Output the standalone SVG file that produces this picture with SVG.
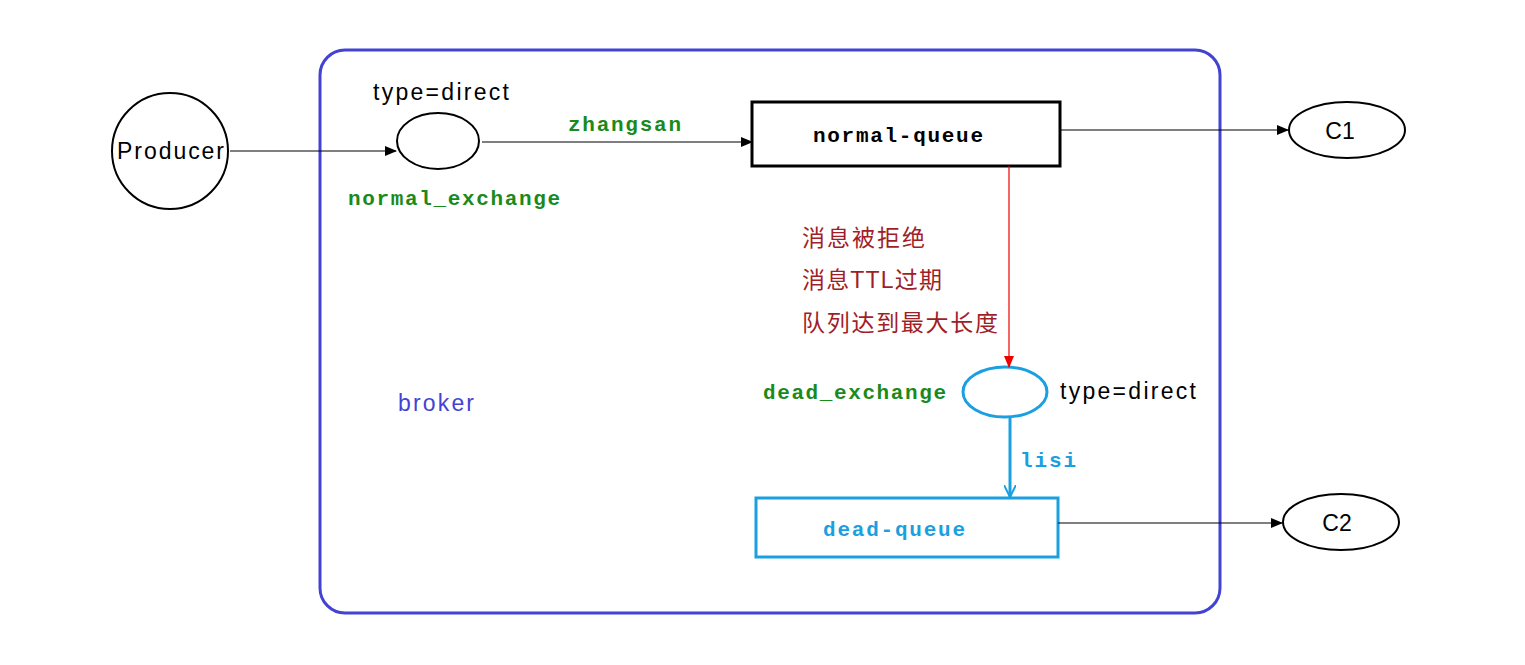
<svg xmlns="http://www.w3.org/2000/svg" width="1525" height="665" viewBox="0 0 1525 665">
<style>
.s{font-family:"Liberation Sans","Noto Sans CJK SC",sans-serif;font-size:23px}
.m{font-family:"Liberation Mono",monospace;font-size:21px;font-weight:bold}
.g{fill:#1a8a1a}
.r{fill:#a01e28}
</style>
<defs>
<marker id="ak" markerWidth="12" markerHeight="10" refX="11" refY="5" orient="auto" markerUnits="userSpaceOnUse"><path d="M0,0L12,5L0,10z" fill="#000"/></marker>
<marker id="ar" markerWidth="12" markerHeight="10" refX="11" refY="5" orient="auto" markerUnits="userSpaceOnUse"><path d="M0,0L12,5L0,10z" fill="#e00"/></marker>
<marker id="ab" markerWidth="14" markerHeight="12" refX="12" refY="6" orient="auto" markerUnits="userSpaceOnUse"><path d="M0,0L12,6L0,12" fill="none" stroke="#1aa0e0" stroke-width="2"/></marker>
</defs>
<rect width="1525" height="665" fill="#fff"/>
<g id="broker"><rect x="320" y="50" width="900" height="563" rx="25" fill="none" stroke="#4343d3" stroke-width="3"/><text x="398" y="411" class="s" fill="#4343d3" textLength="76">broker</text></g>
<g id="producer"><circle cx="170" cy="151" r="58" fill="#fff" stroke="#000" stroke-width="2"/><text x="117" y="159" class="s" textLength="107">Producer</text></g>
<g id="normal_exchange"><ellipse cx="438" cy="141" rx="41" ry="28" fill="#fff" stroke="#000" stroke-width="2"/><text x="373" y="100" class="s" textLength="136">type=direct</text><text x="348" y="205" class="m g" textLength="212">normal_exchange</text></g>
<g id="normal_queue"><rect x="752" y="102" width="308" height="64" fill="#fff" stroke="#000" stroke-width="3"/><text x="813" y="142" class="m" textLength="170">normal-queue</text></g>
<g id="c1"><ellipse cx="1347" cy="130" rx="58" ry="28" fill="#fff" stroke="#000" stroke-width="2"/><text x="1340" y="139" class="s" text-anchor="middle">C1</text></g>
<g id="dead_exchange"><ellipse cx="1005" cy="392" rx="42" ry="25" fill="#fff" stroke="#1aa0e0" stroke-width="3"/><text x="763" y="399" class="m g" textLength="183">dead_exchange</text><text x="1060" y="399" class="s" textLength="136">type=direct</text></g>
<g id="dead_queue"><rect x="756" y="498" width="302" height="59" fill="#fff" stroke="#1aa0e0" stroke-width="3"/><text x="823" y="536" class="m" fill="#1aa0e0" textLength="142">dead-queue</text></g>
<g id="c2"><ellipse cx="1341" cy="522" rx="58" ry="28" fill="#fff" stroke="#000" stroke-width="2"/><text x="1337" y="531" class="s" text-anchor="middle">C2</text></g>
<g id="notes"><text x="802" y="246" class="s r" textLength="123">消息被拒绝</text><text x="802" y="288" class="s r" textLength="140">消息TTL过期</text><text x="802" y="331" class="s r" textLength="196">队列达到最大长度</text></g>
<g id="connectors" fill="none">
<line x1="230" y1="151" x2="396" y2="151" stroke="#000" stroke-width="1.2" marker-end="url(#ak)"/>
<line x1="482" y1="142" x2="752" y2="142" stroke="#000" stroke-width="1.2" marker-end="url(#ak)"/>
<text x="568" y="131" class="m g" textLength="113">zhangsan</text>
<line x1="1060" y1="130" x2="1288" y2="130" stroke="#000" stroke-width="1.2" marker-end="url(#ak)"/>
<line x1="1009" y1="166" x2="1009" y2="367" stroke="#e00" stroke-width="1.2" marker-end="url(#ar)"/>
<text x="1014" y="270" class="s" textLength="98">成为死信</text>
<line x1="1010" y1="417" x2="1010" y2="497" stroke="#1aa0e0" stroke-width="3" marker-end="url(#ab)"/>
<text x="1020" y="467" class="m" fill="#1aa0e0" textLength="56">lisi</text>
<line x1="1058" y1="523" x2="1282" y2="523" stroke="#000" stroke-width="1.2" marker-end="url(#ak)"/>
</g>
</svg>
